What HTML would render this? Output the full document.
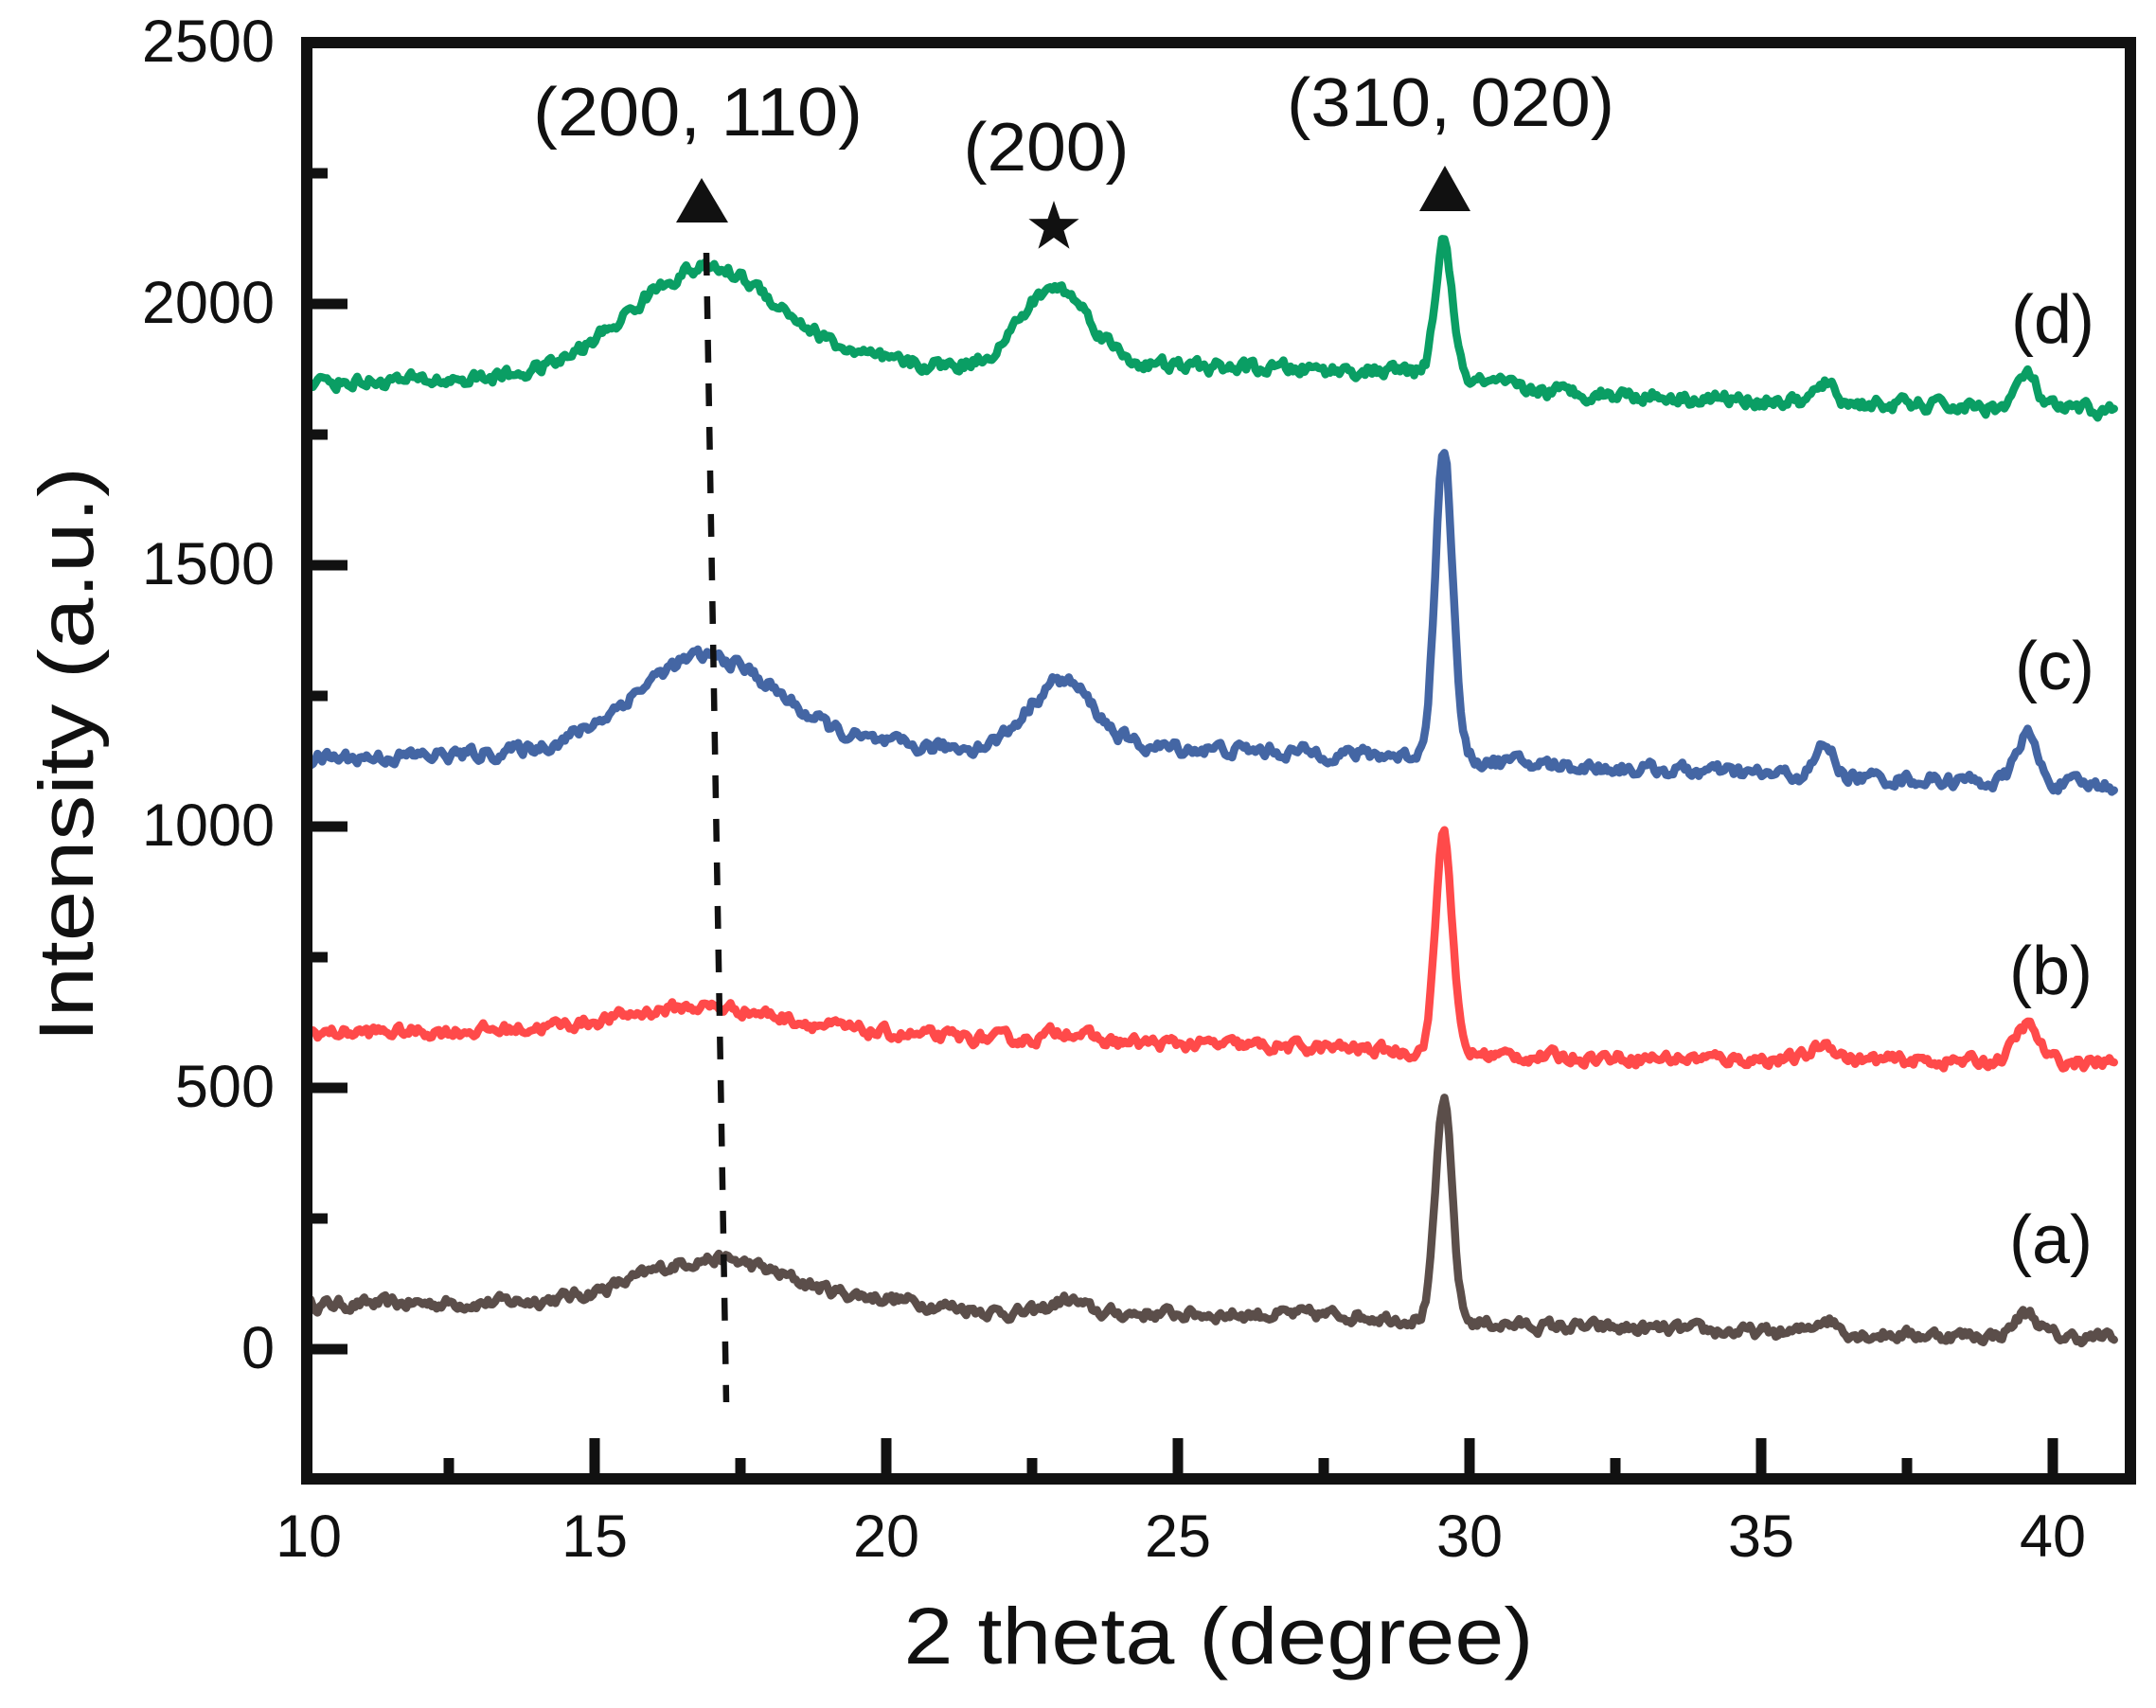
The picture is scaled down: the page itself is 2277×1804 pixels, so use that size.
<!DOCTYPE html>
<html><head><meta charset="utf-8"><style>
html,body{margin:0;padding:0;background:#fff;}
svg{display:block;}
text{font-family:"Liberation Sans",Arial,sans-serif;fill:#111;}
</style></head><body>
<svg id="s" width="2277" height="1804" viewBox="0 0 2277 1804" xmlns="http://www.w3.org/2000/svg">
<rect width="2277" height="1804" fill="#fff"/>
<g id="curves" fill="none" stroke-width="8.5" stroke-linejoin="round" stroke-linecap="round"></g>
<line x1="746" y1="267" x2="767" y2="1481" stroke="#111" stroke-width="6.5" stroke-dasharray="24 22"/>
<g id="axes" stroke="#111" fill="none"></g>
<rect x="324" y="45" width="1926" height="1517" fill="none" stroke="#111" stroke-width="12"/>
<g id="labels" font-size="63"></g>
<polygon points="741,188 714,235 769,235" fill="#111"/>
<polygon points="1526,175 1499,223 1553,223" fill="#111"/>
<polygon id="star" fill="#111"/>
<text x="737" y="143" font-size="72" text-anchor="middle" textLength="348" lengthAdjust="spacingAndGlyphs">(200, 110)</text>
<text x="1105" y="180" font-size="72" text-anchor="middle" textLength="175" lengthAdjust="spacingAndGlyphs">(200)</text>
<text x="1532" y="133" font-size="72" text-anchor="middle" textLength="346" lengthAdjust="spacingAndGlyphs">(310, 020)</text>
<text x="2168" y="362" font-size="72" text-anchor="middle">(d)</text>
<text x="2170" y="728" font-size="72" text-anchor="middle">(c)</text>
<text x="2166" y="1050" font-size="72" text-anchor="middle">(b)</text>
<text x="2166" y="1334" font-size="72" text-anchor="middle">(a)</text>
<text x="1287" y="1757" font-size="84" text-anchor="middle" textLength="665" lengthAdjust="spacingAndGlyphs">2 theta (degree)</text>
<text transform="translate(98,797) rotate(-90)" font-size="82" text-anchor="middle" textLength="608" lengthAdjust="spacingAndGlyphs">Intensity (a.u.)</text>
</svg>
<script>
(function(){
var NS="http://www.w3.org/2000/svg";
function X(t){return 2168+(t-40)*61.6;}
function Y(v){return 45+(2500-v)*0.552;}
var ax=document.getElementById('axes'),lb=document.getElementById('labels');
function line(x1,y1,x2,y2,w){var l=document.createElementNS(NS,'line');l.setAttribute('x1',x1);l.setAttribute('y1',y1);l.setAttribute('x2',x2);l.setAttribute('y2',y2);l.setAttribute('stroke-width',w);ax.appendChild(l);}
function txt(x,y,s,anc){var t=document.createElementNS(NS,'text');t.setAttribute('x',x);t.setAttribute('y',y);t.setAttribute('text-anchor',anc);t.textContent=s;lb.appendChild(t);}
for(var v=0;v<=2500;v+=250){var y=Y(v);var maj=(v%500==0);line(324,y,324+(maj?43:22),y,11);if(maj)txt(290,y+20,String(v),'end');}
for(var t=10;t<=41;t+=2.5){var x=X(t);var maj=(t%5==0);if(t>10)line(x,1562,x,1562-(maj?43:22),11);if(maj)txt(t==10?326:x,1644,String(t),'middle');}
var cx=1113,cy=240,R=28,r=11,pts=[];for(var i=0;i<10;i++){var a=-Math.PI/2+i*Math.PI/5;var rr=i%2?r:R;pts.push((cx+rr*Math.cos(a)).toFixed(1)+','+(cy+rr*Math.sin(a)).toFixed(1));}
document.getElementById('star').setAttribute('points',pts.join(' '));
var seed=12345;function rnd(){seed=(seed*16807)%2147483647;return seed/2147483647;}
function g(t,c,s){return Math.exp(-0.5*Math.pow((t-c)/s,2));}
function lin(t,pts){for(var i=0;i<pts.length-1;i++){if(t<=pts[i+1][0]){var f=(t-pts[i][0])/(pts[i+1][0]-pts[i][0]);return pts[i][1]+f*(pts[i+1][1]-pts[i][1]);}}return pts[pts.length-1][1];}
var series=[
{c:'#5b4e4a',base:[[10,85],[14,90],[20,95],[22,70],[28,65],[31,45],[35,32],[41,22]],pk:[[17,80,1.2],[23.1,25,0.25],[29.56,420,0.14],[36.1,28,0.2],[39.55,45,0.2]],n:9},
{c:'#ff4a4a',base:[[10,605],[14,610],[20,600],[23,590],[28,575],[31,560],[35,555],[41,548]],pk:[[16.9,50,1.4],[23.1,20,0.3],[29.56,425,0.14],[36.1,30,0.2],[39.55,70,0.2]],n:9},
{c:'#4466a4',base:[[10,1130],[14,1140],[20,1150],[25,1150],[29,1135],[31,1120],[35,1100],[41,1078]],pk:[[16.9,180,1.25],[23.0,130,0.55],[29.56,590,0.15],[36.1,60,0.15],[39.55,95,0.17]],n:10},
{c:'#0a9e64',base:[[10,1850],[13,1855],[20,1880],[25,1880],[29,1870],[31,1835],[35,1815],[41,1795]],pk:[[16.9,200,1.3],[22.9,150,0.6],[29.56,265,0.14],[36.1,35,0.15],[39.55,65,0.17]],n:10}
];
var cg=document.getElementById('curves');
series.forEach(function(S){var d='',prev=0;for(var t=10.05;t<=41.05;t+=0.04){var v=lin(t,S.base);S.pk.forEach(function(p){v+=p[1]*g(t,p[0],p[2]);});prev=0.55*prev+(rnd()-0.5)*S.n*2.2;v+=prev;d+=(d?'L':'M')+X(t).toFixed(1)+','+Y(v).toFixed(1);}
var p=document.createElementNS(NS,'path');p.setAttribute('d',d);p.setAttribute('stroke',S.c);cg.appendChild(p);});
})();
</script>
</body></html>
